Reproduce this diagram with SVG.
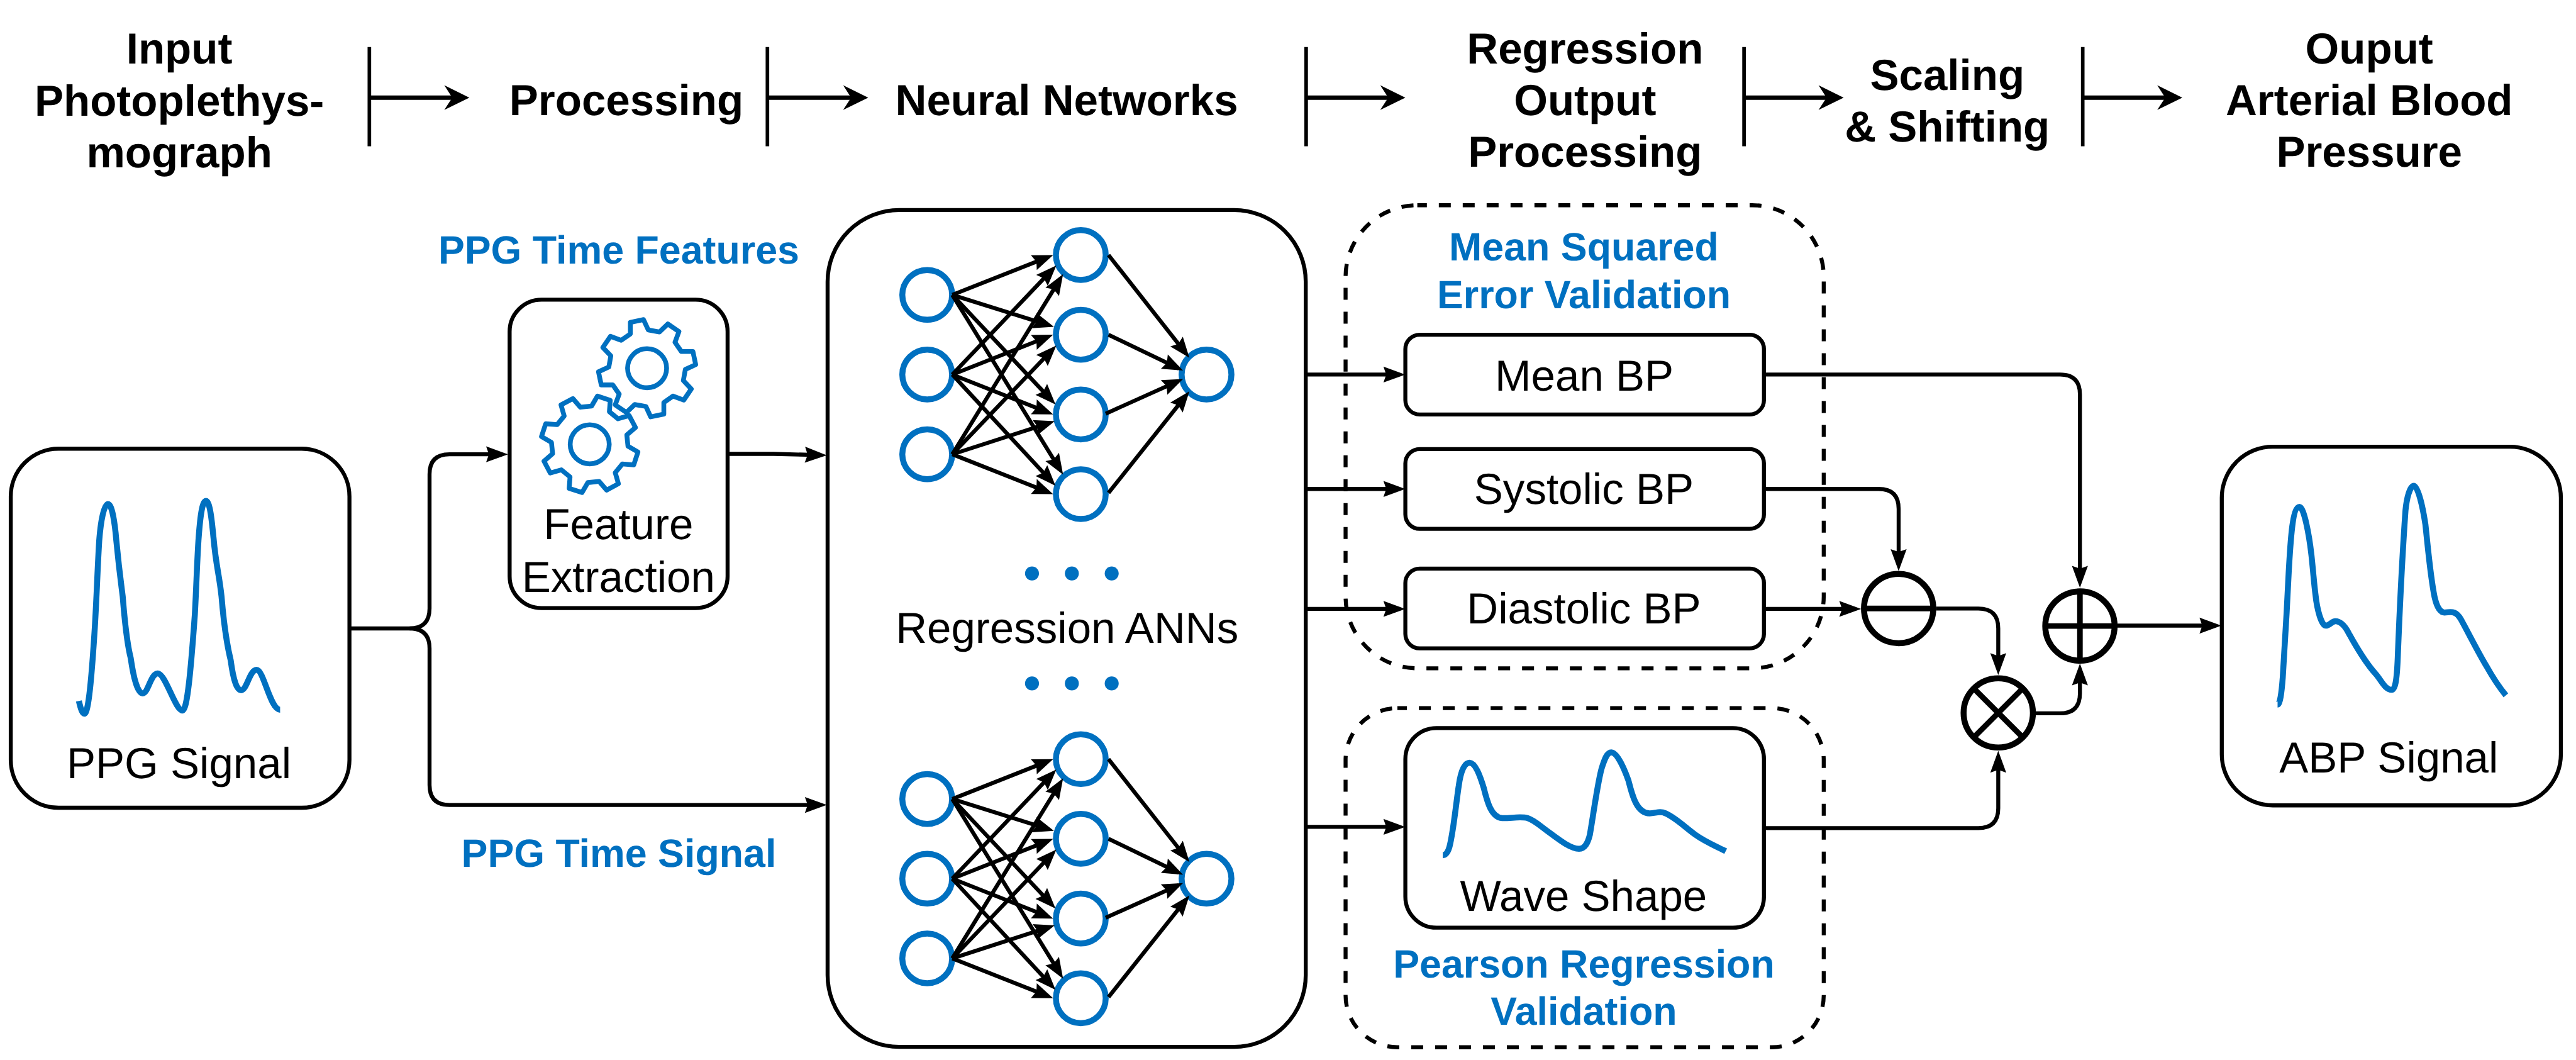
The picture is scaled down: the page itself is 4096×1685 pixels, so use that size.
<svg xmlns="http://www.w3.org/2000/svg" width="4096" height="1685" viewBox="0 0 4096 1685">
<style>
text{font-family:"Liberation Sans",Arial,sans-serif;text-anchor:middle;font-size:109px;fill:#000;text-rendering:geometricPrecision}
.h{font-weight:700}
.b{font-weight:700;font-size:99px;fill:#0070c0}
.box{fill:#fff;stroke:#000;stroke-width:10}
.dash{fill:none;stroke:#000;stroke-width:10;stroke-dasharray:30 30;stroke-dashoffset:6}
.wave{fill:none;stroke:#0070c0;stroke-width:15;stroke-linejoin:round}
.neu{fill:#fff;stroke:#0070c0;stroke-width:15}
.dot{fill:#0070c0}
.gear{fill:none;stroke:#0070c0;stroke-width:12;stroke-linejoin:round}
.op{fill:#fff;stroke:#000;stroke-width:15}
.opl{fill:none;stroke:#000;stroke-width:14}
.tick{stroke:#000;stroke-width:9;fill:none}
.hc{stroke:#000;stroke-width:11;fill:none;marker-end:url(#big)}
.c{stroke:#000;stroke-width:10;fill:none;marker-end:url(#mid)}
.e{stroke:#000;stroke-width:10;fill:none;marker-end:url(#tip);stroke-dasharray:94 100}
</style>
<defs>
<marker id="big" markerUnits="userSpaceOnUse" markerWidth="80" markerHeight="80" refX="38" refY="40" orient="auto" overflow="visible"><path d="M0 9L63 40L0 71L20 40z"/></marker>
<marker id="mid" markerUnits="userSpaceOnUse" markerWidth="70" markerHeight="50" refX="40" refY="25" orient="auto" overflow="visible"><path d="M0 5L55 25L0 45L7 25z"/></marker>
<marker id="tip" markerUnits="userSpaceOnUse" markerWidth="70" markerHeight="50" refX="52" refY="25" orient="auto" overflow="visible"><path d="M0 5L52 25L0 45L7 25z"/></marker>
<path id="gearshape" class="gear" d="M-42-86L-42-115L-9-122L3-96L31-91L52-111L80-92L70-65L86-42L115-42L122-9L96 3L91 31L111 52L92 80L65 70L42 86L42 115L9 122L-3 96L-31 91L-52 111L-80 92L-70 65L-86 42L-115 42L-122 9L-96-3L-91-31L-111-52L-92-80L-65-70z"/>
<g id="netedges">
<path class="e" pathLength="100" d="M2390 740L2643 640"/>
<path class="e" pathLength="100" d="M2390 740L2645 820"/>
<path class="e" pathLength="100" d="M2390 740L2649 1015"/>
<path class="e" pathLength="100" d="M2390 740L2668 1191"/>
<path class="e" pathLength="100" d="M2390 940L2651 666"/>
<path class="e" pathLength="100" d="M2390 940L2643 840"/>
<path class="e" pathLength="100" d="M2390 940L2643 1040"/>
<path class="e" pathLength="100" d="M2390 940L2649 1219"/>
<path class="e" pathLength="100" d="M2390 1140L2668 688"/>
<path class="e" pathLength="100" d="M2390 1140L2651 867"/>
<path class="e" pathLength="100" d="M2390 1140L2647 1057"/>
<path class="e" pathLength="100" d="M2390 1140L2643 1240"/>
<path class="e" pathLength="100" d="M2782 640L2985 898"/>
<path class="e" pathLength="100" d="M2782 840L2969 930"/>
<path class="e" pathLength="100" d="M2775 1038L2969 951"/>
<path class="e" pathLength="100" d="M2782 1237L2985 982"/>
</g>
<g id="netnodes">
<circle class="neu" cx="2327" cy="740" r="62.500"/><circle class="neu" cx="2327" cy="940" r="62.500"/><circle class="neu" cx="2327" cy="1140" r="62.500"/>
<circle class="neu" cx="2712.500" cy="640" r="62.500"/><circle class="neu" cx="2712.500" cy="840" r="62.500"/><circle class="neu" cx="2712.500" cy="1040" r="62.500"/><circle class="neu" cx="2712.500" cy="1240" r="62.500"/>
<circle class="neu" cx="3028" cy="940" r="62.500"/>
</g>
</defs>
<rect width="4096" height="1685" fill="#fff"/>
<g transform="scale(0.63357 0.63346)">
<g id="header">
<g id="stage-input"><text class="h" x="450" y="159">Input</text><text class="h" x="450" y="290">Photoplethys-</text><text class="h" x="450" y="420">mograph</text></g>
<g id="stage-processing"><text class="h" x="1572" y="289">Processing</text></g>
<g id="stage-networks"><text class="h" x="2677" y="289">Neural Networks</text></g>
<g id="stage-regression"><text class="h" x="3978" y="160">Regression</text><text class="h" x="3978" y="289">Output</text><text class="h" x="3978" y="419">Processing</text></g>
<g id="stage-scaling"><text class="h" x="4887" y="225">Scaling</text><text class="h" x="4887" y="355">&amp; Shifting</text></g>
<g id="stage-output"><text class="h" x="5946" y="160">Ouput</text><text class="h" x="5946" y="289">Arterial Blood</text><text class="h" x="5946" y="419">Pressure</text></g>
</g>
<g id="ppg-signal"><rect class="box" x="27" y="1126" width="850" height="901" rx="120"/>
<path class="wave" d="M198 1759C203 1781 207 1791 212 1791C222 1791 230 1700 238 1574C243 1490 245 1420 249 1357C253 1305 261 1265 271 1265C281 1265 288 1310 292 1357C299 1430 302 1450 308 1497C313 1560 320 1620 328 1651C335 1700 345 1740 358 1740C372 1740 378 1690 396 1690C415 1690 440 1783 458 1783C470 1783 479 1680 489 1542C493 1470 494 1420 498 1357C502 1300 507 1257 517 1257C527 1257 532 1310 536 1351C542 1420 550 1440 556 1497C562 1570 570 1620 579 1657C586 1710 595 1732 605 1732C620 1732 626 1681 644 1681C662 1681 678 1781 703 1781"/>
<text x="449" y="1953">PPG Signal</text></g>
<g id="feature-extraction"><rect class="box" x="1279" y="752" width="547" height="774" rx="80"/>
<use href="#gearshape" transform="translate(1624 924)"/><circle class="gear" cx="1624" cy="924" r="49"/>
<use href="#gearshape" transform="translate(1480 1115) rotate(-16)"/><circle class="gear" cx="1480" cy="1115" r="49"/>
<text x="1552" y="1353">Feature</text><text x="1552" y="1485">Extraction</text></g>
<g id="label-features"><text class="b" x="1553" y="662">PPG Time Features</text></g>
<g id="label-signal"><text class="b" x="1553" y="2175">PPG Time Signal</text></g>
<g id="regression-anns"><rect class="box" x="2077" y="527" width="1200" height="2100" rx="180"/>
<use href="#netnodes"/><use href="#netnodes" y="1265"/>
<circle class="dot" cx="2590" cy="1439" r="17.500"/><circle class="dot" cx="2690" cy="1439" r="17.500"/><circle class="dot" cx="2790" cy="1439" r="17.500"/>
<text x="2678" y="1614">Regression ANNs</text>
<circle class="dot" cx="2590" cy="1715" r="17.500"/><circle class="dot" cx="2690" cy="1715" r="17.500"/><circle class="dot" cx="2790" cy="1715" r="17.500"/></g>
<g id="mse-validation"><rect class="dash" x="3377" y="515" width="1200" height="1162" rx="180"/>
<text class="b" x="3975" y="653">Mean Squared</text><text class="b" x="3975" y="773">Error Validation</text></g>
<g id="mean-bp"><rect class="box" x="3527" y="840" width="900" height="200" rx="36"/><text x="3976" y="980">Mean BP</text></g>
<g id="systolic-bp"><rect class="box" x="3527" y="1127" width="900" height="200" rx="36"/><text x="3975" y="1264">Systolic BP</text></g>
<g id="diastolic-bp"><rect class="box" x="3527" y="1427" width="900" height="200" rx="36"/><text x="3975" y="1564">Diastolic BP</text></g>
<g id="pearson-validation"><rect class="dash" x="3377" y="1777" width="1200" height="851" rx="130"/>
<text class="b" x="3975" y="2453">Pearson Regression</text><text class="b" x="3975" y="2572">Validation</text></g>
<g id="wave-shape"><rect class="box" x="3527" y="1827" width="900" height="501" rx="78"/>
<path class="wave" d="M3621 2146C3636 2146 3640 2120 3647 2075C3653 2035 3658 1990 3661 1972C3666 1935 3675 1914 3688 1914C3702 1914 3714 1945 3724 1978C3732 2010 3742 2051 3770 2053C3790 2054 3815 2048 3834 2053C3850 2058 3865 2072 3880 2083C3910 2105 3940 2130 3963 2130C3978 2130 3985 2115 3990 2095C3998 2050 4010 1960 4020 1927C4027 1905 4033 1888 4044 1888C4058 1888 4075 1925 4087 1959C4095 1990 4106 2041 4140 2041C4155 2041 4165 2034 4180 2041C4205 2052 4228 2075 4254 2094C4280 2113 4310 2125 4331 2136"/>
<text x="3974" y="2286">Wave Shape</text></g>
<g id="subtract"><circle class="op" cx="4765" cy="1527" r="87"/><path class="opl" d="M4678 1527H4852"/></g>
<g id="multiply"><circle class="op" cx="5015" cy="1789" r="87"/><path class="opl" d="M4954 1728L5076 1850M5076 1728L4954 1850"/></g>
<g id="add"><circle class="op" cx="5220" cy="1571" r="87"/><path class="opl" d="M5133 1571H5307M5220 1484V1658"/></g>
<g id="abp-signal"><rect class="box" x="5576" y="1121" width="851" height="900" rx="128"/>
<path class="wave" d="M5716 1768C5722 1768 5726 1740 5729 1700C5733 1640 5740 1520 5744 1435C5748 1370 5752 1272 5771 1272C5782 1272 5795 1340 5801 1393C5806 1440 5808 1470 5811 1491C5815 1530 5826 1570 5837 1570C5846 1570 5852 1559 5861 1559C5875 1559 5885 1570 5895 1590C5908 1612 5930 1655 5962 1691C5975 1705 5985 1731 6003 1731C6012 1731 6016 1700 6018 1640C6022 1540 6030 1380 6037 1281C6040 1250 6048 1219 6058 1219C6068 1219 6080 1270 6087 1316C6095 1390 6100 1450 6110 1498C6116 1525 6125 1537 6135 1537C6150 1537 6162 1530 6176 1554C6196 1590 6218 1635 6241 1673C6255 1698 6275 1728 6289 1745"/>
<text x="5995" y="1939">ABP Signal</text></g>
<g id="connectors">
<path class="tick" d="M927 118V367M1926 118V367M3278 118V367M4377 118V367M5227 118V367"/>
<path class="hc" d="M927 245H1153"/>
<path class="hc" d="M1926 245H2154"/>
<path class="hc" d="M3278 245H3502"/>
<path class="hc" d="M4377 245H4602"/>
<path class="hc" d="M5227 245H5452"/>
<path class="c" d="M877 1577H1028Q1078 1577 1078 1527V1190Q1078 1140 1128 1140H1260"/>
<path class="c" d="M1028 1577Q1078 1577 1078 1627V1970Q1078 2020 1128 2020H2060"/>
<path class="c" d="M1828 1139H1942L2060 1142"/>
<use href="#netedges"/><use href="#netedges" y="1265"/>
<path class="c" d="M3277 940H3512"/>
<path class="c" d="M3277 1227H3512"/>
<path class="c" d="M3277 1528H3512"/>
<path class="c" d="M3277 2075H3512"/>
<path class="c" d="M4427 940H5170Q5220 940 5220 990V1460"/>
<path class="c" d="M4427 1227H4715Q4765 1227 4765 1277V1418"/>
<path class="c" d="M4427 1528H4656"/>
<path class="c" d="M4859 1527H4965Q5015 1527 5015 1577V1679"/>
<path class="c" d="M4427 2078H4965Q5015 2078 5015 2028V1899"/>
<path class="c" d="M5109 1790H5170Q5220 1790 5220 1740V1680"/>
<path class="c" d="M5313 1570H5560"/>
</g>
</g>
</svg>
